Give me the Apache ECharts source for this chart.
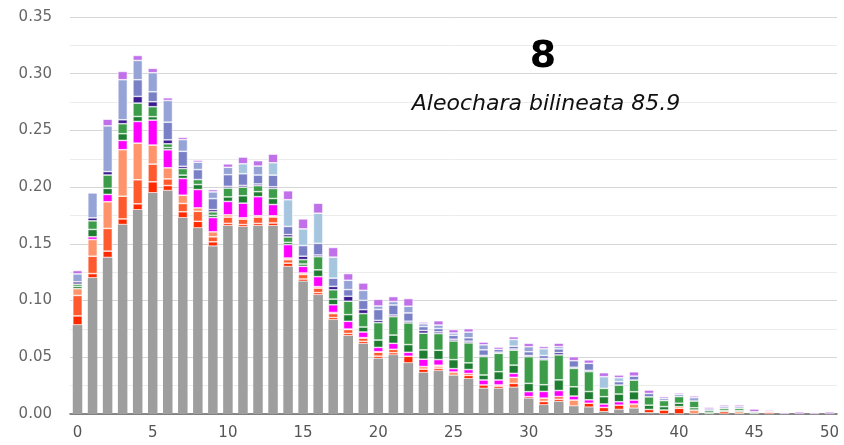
<!DOCTYPE html>
<html>
<head>
<meta charset="utf-8">
<script src="https://cdn.jsdelivr.net/npm/echarts@6/dist/echarts.min.js"></script>
<style>
html,body{margin:0;padding:0;background:#fff;}
#chart{width:844px;height:445px;}
</style>
</head>
<body>
<div id="chart"></div>
<script>
const categories = Array.from({length: 51}, (_, i) => String(i));
const titleText = "8";
const subtitleText = "Aleochara bilineata 85.9";

const gray = [0.0785,0.120,0.138,0.167,0.180,0.195,0.197,0.173,0.164,0.148,0.166,0.165,0.166,0.166,0.130,0.117,0.105,0.083,0.069,0.062,0.049,0.052,0.045,0.0365,0.038,0.034,0.031,0.0226,0.0226,0.0235,0.0138,0.008,0.011,0.007,0.006,0.002,0.004,0.005,0.001,0,0,0,0,0,0,0,0,0,0,0,0];
const red = [0.008,0.0038,0.0056,0.005,0.0053,0.0097,0.0044,0.0053,0.0059,0.0038,0.002,0.002,0.002,0.0024,0.003,0.002,0.002,0.002,0.002,0.002,0.002,0.002,0.0059,0.003,0.002,0,0.003,0.003,0.002,0.0035,0.0015,0.003,0.002,0,0.0035,0.0038,0.0038,0,0.003,0.0035,0.005,0,0,0.002,0,0,0.0015,0,0,0,0];
const orangeRed = [0.018,0.0153,0.020,0.020,0.0212,0.0156,0.0059,0.0073,0.0088,0.0044,0.0056,0.0048,0.0056,0.0053,0.003,0.004,0.004,0.0035,0.0035,0.003,0.0035,0.003,0,0,0.0015,0,0.0017,0,0.001,0,0,0,0.0024,0,0,0,0,0,0,0,0,0,0,0,0,0,0,0,0,0,0];
const salmon = [0.006,0.0147,0.0235,0.041,0.0323,0.0168,0.0097,0.0073,0.003,0.0044,0.002,0.0012,0.0012,0.001,0.0015,0.0013,0.0013,0.001,0.0004,0.0003,0.0004,0,0,0.0023,0.0015,0.003,0,0,0,0.0053,0,0.003,0,0.0053,0,0,0,0.0038,0,0,0.0015,0.0035,0,0,0.002,0,0.001,0,0,0,0];
const magenta = [0,0.0024,0.0065,0.0082,0.0191,0.022,0.0159,0.0147,0.0162,0.0126,0.0118,0.0129,0.0168,0.010,0.0118,0.0059,0.0088,0.0068,0.0068,0.005,0.0038,0.0053,0.0035,0.0065,0.005,0.003,0.0035,0.0044,0.0044,0.0035,0.0044,0.0059,0.0053,0.0035,0.003,0.003,0.003,0.0035,0,0,0,0,0,0,0,0,0,0,0,0,0];
const darkGreen = [0.002,0.0065,0.0053,0.0059,0.0044,0.003,0.002,0.003,0.0044,0.002,0.004,0.0065,0.0044,0.0053,0.002,0.002,0.006,0.005,0.0059,0.0044,0.0065,0.0073,0.0068,0.0082,0.0082,0.0079,0.0059,0.0044,0.0073,0.0073,0.0073,0.0059,0.0094,0.0082,0.0073,0.0065,0.0068,0.0073,0.0038,0.003,0.003,0.002,0.001,0.001,0.001,0.001,0,0,0,0,0];
const green = [0.002,0.0076,0.0118,0.0088,0.0118,0.0088,0.0033,0.0058,0.0044,0.003,0.0078,0.0076,0.0053,0.0088,0.0048,0.0039,0.0116,0.0082,0.0118,0.0118,0.0153,0.0162,0.0191,0.0147,0.0147,0.0165,0.0176,0.0162,0.0162,0.0132,0.0235,0.022,0.022,0.0162,0.0176,0.0073,0.0079,0.0103,0.0073,0.0053,0.0059,0.0059,0.0019,0.0019,0.002,0.001,0,0,0,0,0];
const navy = [0.002,0.0026,0.003,0.0035,0.0059,0.0044,0.0035,0.002,0,0.002,0.0015,0.0015,0.0015,0.0015,0.002,0.003,0.0015,0.003,0.0044,0.0035,0.002,0.0015,0.0015,0.0024,0.0015,0.0015,0.0015,0.001,0.001,0.001,0.001,0.001,0.002,0.001,0.001,0,0,0,0,0,0,0,0,0,0,0,0,0,0,0,0];
const slateBlue = [0,0,0,0,0.0147,0.0088,0.0156,0.0132,0.0088,0.0097,0.0103,0.0103,0.0079,0.0103,0.0073,0.0094,0.0103,0.0073,0.0059,0.0082,0.0097,0.0088,0.0073,0.0035,0.003,0.0035,0.003,0.005,0.0025,0.0025,0.0034,0.0028,0.0033,0.0058,0.0063,0,0.003,0.0035,0.003,0,0,0,0.0015,0,0,0,0,0,0,0,0];
const periwinkle = [0.007,0.022,0.0403,0.0353,0.017,0.0168,0.0191,0.0103,0.0065,0.0059,0.0065,0,0.0079,0,0,0,0,0,0.0082,0.0088,0.003,0.003,0.0059,0.0024,0.003,0.002,0.005,0.0044,0,0,0.0044,0,0.002,0,0,0,0,0,0,0.002,0.002,0.003,0,0.0015,0.0015,0,0,0,0,0,0];
const lightBlue = [0,0,0,0,0,0,0,0,0,0,0,0.0088,0,0.0109,0.0235,0.0147,0.0265,0.0185,0,0,0,0,0,0,0,0,0,0,0,0.0059,0,0.0059,0,0,0,0.0103,0.0035,0,0,0,0,0,0,0,0,0,0,0,0,0,0];
const purple = [0.003,0,0.0059,0.0073,0.0044,0.0038,0.0024,0.002,0.0018,0.002,0.003,0.0059,0.0047,0.0076,0.0079,0.0088,0.0088,0.0085,0.0059,0.0065,0.0059,0.0044,0.0068,0.0015,0.0038,0.003,0.003,0.0024,0.002,0.0024,0.003,0.002,0.003,0.0035,0.003,0.0035,0.0024,0.0038,0.003,0.0015,0.0012,0.0015,0.0015,0.0015,0.0015,0.0024,0.001,0.0012,0.0018,0.0012,0.0018];

const yTicks = [0, 0.05, 0.10, 0.15, 0.20, 0.25, 0.30, 0.35];

const seriesDefs = [
  ['gray', gray, '#9e9e9e'],
  ['red', red, '#ff2a00'],
  ['orangeRed', orangeRed, '#ff5a2e'],
  ['salmon', salmon, '#ff946c'],
  ['magenta', magenta, '#ff00ff'],
  ['darkGreen', darkGreen, '#1e7d30'],
  ['green', green, '#3d9c4a'],
  ['navy', navy, '#3b1d8f'],
  ['slateBlue', slateBlue, '#7a80c6'],
  ['periwinkle', periwinkle, '#95a3d6'],
  ['lightBlue', lightBlue, '#a6c6e0'],
  ['purple', purple, '#c070e8']
];

const chart = echarts.init(document.getElementById('chart'), null, {renderer: 'canvas'});
chart.setOption({
  animation: false,
  backgroundColor: '#ffffff',
  title: [{
    text: titleText,
    left: 538, top: 33, textAlign: 'center',
    textStyle: {fontFamily: 'DejaVu Sans', fontWeight: 'bold', fontSize: 38, color: '#000'}
  }, {
    text: subtitleText,
    left: 541, top: 88, textAlign: 'center',
    textStyle: {fontFamily: 'DejaVu Sans', fontStyle: 'italic', fontWeight: 'normal', fontSize: 22, color: '#111'}
  }],
  grid: {left: 70, right: 7, top: 17, bottom: 31, containLabel: false},
  xAxis: {
    type: 'category',
    data: categories,
    axisLine: {show: true, lineStyle: {color: '#666', width: 1.5}},
    axisTick: {show: false},
    axisLabel: {
      interval: 4, margin: 12,
      fontFamily: 'DejaVu Sans', fontSize: 15, color: '#555'
    }
  },
  yAxis: {
    type: 'value',
    min: yTicks[0], max: yTicks[yTicks.length - 1], interval: 0.05,
    axisLine: {show: false},
    axisTick: {show: false},
    axisLabel: {
      margin: 18,
      fontFamily: 'DejaVu Sans', fontSize: 15, color: '#666',
      formatter: v => v.toFixed(2)
    },
    splitLine: {lineStyle: {color: '#d6d6d6', width: 1}},
    minorTick: {show: false, splitNumber: 2},
    minorSplitLine: {show: true, lineStyle: {color: '#ececec', width: 1}}
  },
  series: seriesDefs.map(([name, vals, color]) => ({
    name: name,
    type: 'bar',
    stack: 'total',
    barWidth: 9.5,
    data: vals.map(v => v === 0 ? '-' : v),
    itemStyle: {color: color, borderColor: '#ffffff', borderWidth: name === 'gray' ? 0 : 0.6},
    emphasis: {disabled: true}
  }))
});
</script>
</body>
</html>
